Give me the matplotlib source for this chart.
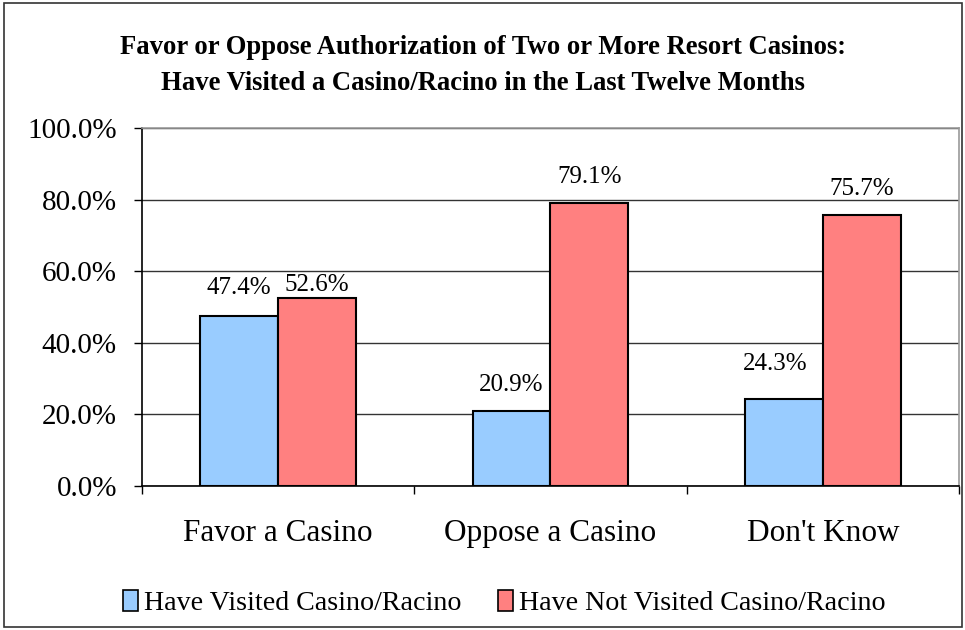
#Favor/oppose chart split by casino visit, Excel style
import matplotlib.pyplot as plt
import matplotlib.patches as mpatches
import numpy as np

plt.rcParams['font.family'] = ['Liberation Serif', 'DejaVu Serif']

#Data
categories = ['Favor a Casino', 'Oppose a Casino', "Don't Know"]
visited = [47.4, 20.9, 24.3]
not_visited = [52.6, 79.1, 75.7]
series_names = ['Have Visited Casino/Racino', 'Have Not Visited Casino/Racino']
yticks = [0, 20, 40, 60, 80, 100]

#label nudges in points (the labels were moved by hand in the original)
visited_nudge = [(0, 16), (0, 14.5), (-6.5, 21)]
not_visited_nudge = [(0, 5), (0, 14), (0, 14.5)]

blue = '#99CCFF'
red = '#FF8080'

fig = plt.figure(figsize=(9.65, 6.3), dpi=100)
ax = fig.add_axes([142/965, 1-486/630, 817/965, 358/630])

x = np.arange(len(categories))
w = 1/3.5
b1 = ax.bar(x - w/2, visited, w, color=blue, edgecolor='black', linewidth=1.5, zorder=3)
b2 = ax.bar(x + w/2, not_visited, w, color=red, edgecolor='black', linewidth=1.5, zorder=3)

for bars, vals, nudge in [(b1, visited, visited_nudge), (b2, not_visited, not_visited_nudge)]:
    for r, v, off in zip(bars, vals, nudge):
        ax.annotate('%.1f%%' % v, (r.get_x() + r.get_width()/2, v),
                    xytext=off, textcoords='offset points',
                    ha='center', va='baseline', fontsize=18)

ax.set_xlim(-0.5, 2.5)
ax.set_ylim(0, 100)
ax.set_yticks(yticks)
ax.set_yticklabels(['%.1f%%' % t for t in yticks], fontsize=21)
ax.yaxis.grid(True, color='#333333', linewidth=1, zorder=0)

#category labels with ticks at category boundaries
ax.set_xticks([-0.5, 0.5, 1.5, 2.5])
ax.set_xticklabels([])
ax.set_xticks(x, minor=True)
ax.set_xticklabels(categories, minor=True, fontsize=22.5)
ax.tick_params(axis='x', which='minor', length=0, pad=24)
ax.tick_params(axis='x', which='major', length=6, direction='out', width=1)
ax.tick_params(axis='y', length=6, direction='out', width=1, pad=12)

for s in ['top', 'right']:
    ax.spines[s].set_color('#999999')
    ax.spines[s].set_linewidth(1.2)
for s in ['left', 'bottom']:
    ax.spines[s].set_color('black')
    ax.spines[s].set_linewidth(1.2)

fig.text(0.5, 1 - 48/630, 'Favor or Oppose Authorization of Two or More Resort Casinos:',
         ha='center', va='center', fontsize=19.2, fontweight='bold')
fig.text(0.5, 1 - 84/630, 'Have Visited a Casino/Racino in the Last Twelve Months',
         ha='center', va='center', fontsize=19.2, fontweight='bold')

handles = [mpatches.Patch(facecolor=blue, edgecolor='black', linewidth=1.2),
           mpatches.Patch(facecolor=red, edgecolor='black', linewidth=1.2)]
fig.legend(handles, series_names, loc='center', bbox_to_anchor=(504/965, 1 - 603/630),
           ncol=2, frameon=False, fontsize=20.2, handlelength=0.55, handleheight=0.75,
           handletextpad=0.2, columnspacing=1.3)

#outer chart frame
fig.add_artist(mpatches.Rectangle((4/965, 3/630), 958/965, 624/630, transform=fig.transFigure,
                                  fill=False, edgecolor='#333333', linewidth=1.2))

fig.savefig('out.png', dpi=100)
